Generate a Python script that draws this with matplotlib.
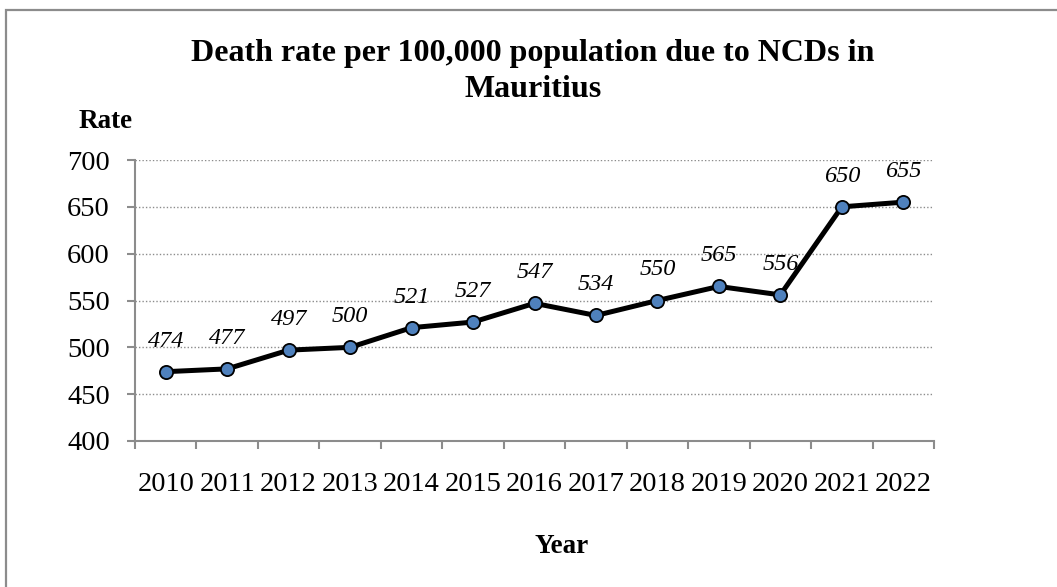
import matplotlib
matplotlib.use("Agg")
import matplotlib.pyplot as plt
from matplotlib.patches import Rectangle

years = ["2010", "2011", "2012", "2013", "2014", "2015", "2016",
         "2017", "2018", "2019", "2020", "2021", "2022"]
rates = [474, 477, 497, 500, 521, 527, 547, 534, 550, 565, 556, 650, 655]
y_ticks = [400, 450, 500, 550, 600, 650, 700]

plt.rcParams['font.family'] = ['Liberation Serif', 'DejaVu Serif']

W, H = 1057, 587
fig = plt.figure(figsize=(W / 100, H / 100), dpi=100)
fig.patch.set_facecolor("white")

# outer chart border (partially cropped on right/bottom)
fig.add_artist(Rectangle((6 / W, -0.1), 1.2, 1 - 10 / H + 0.1,
                         transform=fig.transFigure, fill=False,
                         edgecolor="#8c8c8c", linewidth=1.6))

ax = fig.add_axes([135 / W, 1 - 441 / H, (934 - 135) / W, (441 - 160) / H])
x = list(range(len(years)))
ax.plot(x, rates, color="black", linewidth=3.6, zorder=3,
        marker="o", markersize=9.5, markerfacecolor="#4F81BD",
        markeredgecolor="black", markeredgewidth=1.3)

for xi, v in zip(x, rates):
    ax.annotate(str(v), (xi, v), xytext=(0, 22), textcoords="offset points",
                ha="center", va="center", fontsize=17.5, style="italic")

ax.set_xlim(-0.5, len(years) - 0.5)
ax.set_ylim(400, 700)
ax.set_yticks(y_ticks)
ax.set_yticklabels([str(t) for t in y_ticks], fontsize=20.5)
ax.set_xticks(x)
ax.set_xticklabels(years, fontsize=20.5)
ax.set_xticks([i - 0.5 for i in range(len(years) + 1)], minor=True)
ax.tick_params(axis="x", which="major", length=0, pad=22)
ax.tick_params(axis="x", which="minor", length=6, width=1.5, color="#8c8c8c", direction="out")
ax.tick_params(axis="y", which="major", length=6, width=1.5, color="#8c8c8c", pad=12, direction="out")

for s in ["top", "right"]:
    ax.spines[s].set_visible(False)
for s in ["left", "bottom"]:
    ax.spines[s].set_color("#8c8c8c")
    ax.spines[s].set_linewidth(1.5)

for t in y_ticks[1:]:
    ax.axhline(t, color="#8c8c8c", linewidth=1.0, linestyle=(0, (1, 1.5)), zorder=1)

fig.text(533 / W, 1 - 61 / H, "Death rate per 100,000 population due to NCDs in",
         ha="center", va="baseline", fontsize=23, fontweight="bold")
fig.text(533 / W, 1 - 97 / H, "Mauritius",
         ha="center", va="baseline", fontsize=23, fontweight="bold")
fig.text(106 / W, 1 - 128 / H, "Rate", ha="center", va="baseline",
         fontsize=19.5, fontweight="bold")
fig.text(562 / W, 1 - 553 / H, "Year", ha="center", va="baseline",
         fontsize=19.5, fontweight="bold")

fig.savefig("out.png", dpi=100)
